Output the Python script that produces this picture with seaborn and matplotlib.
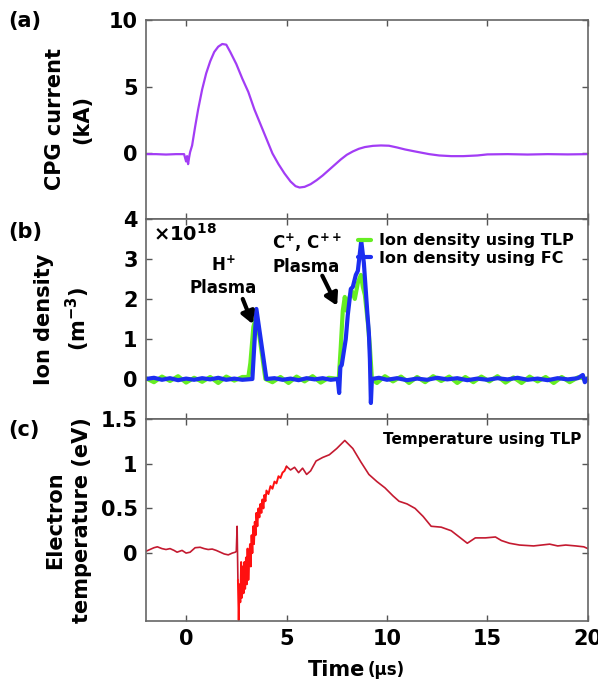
import numpy as np
import pandas as pd
from matplotlib import pyplot as plt
import seaborn as sns

# (a) CPG current, kA
t_cur = [-2.0, -1.5, -1.0, -0.5, -0.1, 0.0, 0.05, 0.1, 0.15, 0.2, 0.3, 0.45, 0.6, 0.8, 1.0,
         1.2, 1.4, 1.6, 1.8, 2.0, 2.2, 2.5, 2.8, 3.1, 3.4, 3.7, 4.0, 4.3, 4.6, 4.9, 5.2,
         5.45, 5.65, 5.9, 6.2, 6.5, 6.8, 7.1, 7.4, 7.7, 8.0, 8.3, 8.6, 8.9, 9.3, 9.7, 10.1,
         10.5, 10.9, 11.4, 12.1, 12.6, 13.2, 13.8, 14.5, 15.0, 16.0, 17.0, 18.0, 19.0, 20.0]
cur = [-0.05, -0.05, -0.08, -0.05, -0.05, -0.6, -0.2, -0.8, -0.3, 0.1, 0.6, 2.0, 3.3, 4.8,
       6.0, 6.9, 7.6, 8.0, 8.2, 8.15, 7.6, 6.7, 5.6, 4.6, 3.3, 2.2, 1.1, 0.0, -0.8, -1.5,
       -2.1, -2.45, -2.55, -2.5, -2.3, -2.0, -1.65, -1.25, -0.85, -0.45, -0.1, 0.15, 0.35,
       0.48, 0.57, 0.6, 0.58, 0.45, 0.3, 0.15, -0.05, -0.15, -0.2, -0.2, -0.15, -0.07,
       -0.05, -0.08, -0.05, -0.07, -0.05]

# (b) ion density, 1e18 m^-3
t_fc = [-2.0, -1.6, -1.2, -0.8, -0.4, 0.0, 0.4, 0.8, 1.2, 1.6, 2.0, 2.4, 2.8, 3.3, 3.5,
        4.0, 4.4, 4.8, 5.2, 5.6, 6.0, 6.4, 6.8, 7.2, 7.55, 7.62, 7.68, 7.75, 7.95, 8.05,
        8.2, 8.3, 8.45, 8.55, 8.72, 8.85, 9.03, 9.1, 9.15, 9.2, 9.25, 9.6, 10.0, 10.5,
        11.0, 11.5, 12.0, 12.5, 13.0, 13.5, 14.0, 14.5, 15.0, 15.5, 16.0, 16.5, 17.0,
        17.5, 18.0, 18.5, 19.0, 19.5, 19.75, 19.85, 20.0]
n_fc = [0.0, 0.03, -0.02, 0.02, -0.03, 0.01, -0.02, 0.02, -0.01, 0.03, -0.02, 0.01, -0.02,
        0.0, 1.75, 0.0, 0.02, -0.02, 0.01, -0.03, 0.02, -0.01, 0.02, -0.02, 0.0, -0.35,
        0.3, 0.35, 1.0, 1.6, 2.25, 2.3, 2.6, 2.7, 3.45, 2.9, 1.6, 1.15, 0.5, -0.6, 0.0,
        0.03, -0.02, 0.02, -0.03, 0.01, -0.02, 0.03, -0.01, 0.02, -0.03, 0.01, -0.02,
        0.02, -0.01, 0.03, -0.02, 0.01, -0.03, 0.02, -0.01, 0.02, 0.1, -0.08, 0.02]
t_tlp = [-2.0, -1.6, -1.2, -0.8, -0.4, 0.0, 0.4, 0.8, 1.2, 1.6, 2.0, 2.4, 2.8, 3.1, 3.2,
         3.35, 3.5, 3.95, 4.3, 4.7, 5.1, 5.5, 5.9, 6.3, 6.7, 7.1, 7.6, 7.7, 7.8, 7.9, 8.0,
         8.1, 8.25, 8.4, 8.55, 8.7, 8.8, 8.9, 9.05, 9.15, 9.25, 9.5, 9.9, 10.3, 10.7, 11.1,
         11.5, 11.9, 12.3, 12.7, 13.1, 13.5, 13.9, 14.3, 14.7, 15.1, 15.5, 15.9, 16.3, 16.7,
         17.1, 17.5, 17.9, 18.3, 18.7, 19.1, 19.5, 20.0]
n_tlp = [0.02, -0.08, 0.06, -0.05, 0.07, -0.09, 0.03, -0.07, 0.05, -0.1, 0.06, -0.04, 0.05,
         0.05, 0.4, 1.3, 1.6, 0.0, -0.08, 0.05, -0.1, 0.06, -0.06, 0.07, -0.09, 0.03, 0.0,
         0.8, 1.7, 2.05, 1.7, 2.0, 2.2, 2.0, 2.4, 2.6, 2.3, 2.1, 1.4, 0.8, 0.0, -0.1, 0.07,
         -0.06, 0.06, -0.1, 0.05, -0.08, 0.07, -0.05, 0.06, -0.1, 0.05, -0.08, 0.06, -0.06,
         0.07, -0.09, 0.04, -0.1, 0.06, -0.06, 0.05, -0.1, 0.05, -0.08, 0.04, 0.0]

# (c) electron temperature, eV
t_te1 = [-2.0, -1.8, -1.6, -1.43, -1.2, -1.0, -0.8, -0.6, -0.45, -0.2, 0.0, 0.2, 0.45, 0.7,
         0.9, 1.1, 1.3, 1.5, 1.7, 1.9, 2.1, 2.3, 2.45, 2.5, 2.54, 2.58]
te1 = [0.02, 0.04, 0.06, 0.07, 0.05, 0.04, 0.05, 0.03, 0.01, 0.03, 0.0, 0.01, 0.06, 0.065,
       0.05, 0.04, 0.045, 0.03, 0.01, -0.01, -0.02, 0.0, 0.01, 0.02, 0.3, -0.3]
t_te2 = [2.58, 2.62, 2.66, 2.7, 2.74, 2.78, 2.82, 2.86, 2.9, 2.94, 2.98, 3.02, 3.06, 3.1,
         3.14, 3.18, 3.22, 3.26, 3.3, 3.34, 3.38, 3.42, 3.46, 3.5, 3.55, 3.6, 3.65, 3.7,
         3.75, 3.8, 3.85, 3.9, 3.95, 4.0, 4.1, 4.2, 4.3, 4.4, 4.5, 4.6, 4.7, 4.8, 4.9, 5.0]
te2 = [-0.3, -0.75, -0.35, -0.55, -0.1, -0.5, -0.15, -0.45, -0.1, -0.4, -0.05, -0.35, 0.05,
       -0.3, -0.1, 0.1, -0.15, 0.2, 0.0, 0.3, 0.1, 0.35, 0.2, 0.45, 0.3, 0.5, 0.4, 0.55,
       0.45, 0.6, 0.5, 0.65, 0.58, 0.7, 0.66, 0.75, 0.72, 0.8, 0.78, 0.86, 0.84, 0.9, 0.92,
       0.97]
t_te3 = [5.0, 5.2, 5.4, 5.6, 5.8, 6.0, 6.2, 6.47, 6.8, 7.13, 7.5, 7.9, 8.3, 8.7, 9.1, 9.5,
         9.9, 10.3, 10.6, 11.0, 11.4, 11.8, 12.2, 12.7, 13.2, 13.6, 14.0, 14.4, 14.9, 15.4,
         15.7, 16.1, 16.6, 17.3, 18.1, 18.5, 18.9, 19.4, 19.8, 20.0]
te3 = [0.97, 0.93, 0.96, 0.9, 0.95, 0.88, 0.92, 1.03, 1.07, 1.1, 1.17, 1.26, 1.17, 1.02,
       0.88, 0.8, 0.73, 0.64, 0.58, 0.55, 0.5, 0.41, 0.3, 0.29, 0.25, 0.18, 0.11, 0.17,
       0.17, 0.18, 0.14, 0.11, 0.09, 0.08, 0.1, 0.08, 0.09, 0.08, 0.07, 0.05]

sns.set_style("ticks")
plt.rcParams['font.family'] = ['DejaVu Sans']
plt.rcParams['font.weight'] = 'bold'
plt.rcParams['text.color'] = 'black'
plt.rcParams['axes.labelcolor'] = 'black'

fig = plt.figure(figsize=(5.98, 6.84), dpi=100)
L, W = 0.244, 0.739
axA = fig.add_axes([L, 0.680, W, 0.2908])
axB = fig.add_axes([L, 0.3874, W, 0.2926])
axC = fig.add_axes([L, 0.0921, W, 0.2953])


def line(ax, t, y, color, lw, label=None):
    df = pd.DataFrame({"t": t, "y": y})
    sns.lineplot(data=df, x="t", y="y", ax=ax, color=color, linewidth=lw,
                 estimator=None, sort=False, label=label, legend=label is not None)


line(axA, t_cur, cur, "#a23cf5", 1.6)
line(axB, t_tlp, n_tlp, "#66ee22", 3.0, "Ion density using TLP")
line(axB, t_fc, n_fc, "#1c2ef0", 3.0, "Ion density using FC")
line(axC, t_te1, te1, "#c41a30", 1.2)
line(axC, t_te2, te2, "#ff1010", 1.4)
line(axC, t_te3, te3, "#c41a30", 1.2)

axA.set_ylim(-4.9, 10)
axA.set_yticks([0, 5, 10])
axB.set_ylim(-1, 4)
axB.set_yticks([0, 1, 2, 3, 4])
axC.set_ylim(-0.76, 1.5)
axC.set_yticks([0, 0.5, 1, 1.5])
axC.set_yticklabels(["0", "0.5", "1", "1.5"])

for ax in (axA, axB, axC):
    ax.set_xlim(-2, 20)
    ax.set_xticks([0, 5, 10, 15, 20])
    ax.tick_params(direction="in", top=True, right=True, length=4, width=1,
                   color="#555555", labelcolor="black", labelsize=15, pad=6)
    for s in ax.spines.values():
        s.set_color("#666666")
        s.set_linewidth(1.2)
    ax.set_xlabel("")
    for lab in ax.get_yticklabels() + ax.get_xticklabels():
        lab.set_fontweight("bold")
axA.tick_params(labelbottom=False)
axB.tick_params(labelbottom=False)

axA.set_ylabel("CPG current\n(kA)", fontsize=15, fontweight="bold", linespacing=1.45)
axB.set_ylabel("Ion density\n(m$^{\\mathbf{-3}}$)", fontsize=15, fontweight="bold",
               linespacing=1.45)
axC.set_ylabel("Electron\ntemperature (eV)", fontsize=15, fontweight="bold", linespacing=1.45)
for ax in (axA, axB, axC):
    ax.yaxis.set_label_coords(-0.122, 0.5)

fig.text(0.610, 0.021, "Time", fontsize=15, fontweight="bold", ha="right", va="center")
fig.text(0.615, 0.021, "(\u03bcs)", fontsize=12, fontweight="bold", ha="left", va="center")

fig.text(0.013, 0.970, "(a)", fontsize=15, fontweight="bold", va="center")
fig.text(0.013, 0.661, "(b)", fontsize=15, fontweight="bold", va="center")
fig.text(0.013, 0.371, "(c)", fontsize=15, fontweight="bold", va="center")

axB.text(0.015, 0.925, "\u00d710$^{\\mathbf{18}}$", transform=axB.transAxes, fontsize=14,
         fontweight="bold", va="center", ha="left")
axB.text(1.83, 2.56, "H$^{\\mathbf{+}}$\nPlasma", fontsize=12, fontweight="bold",
         ha="center", va="center", linespacing=1.3)
axB.text(6.0, 3.12, "C$^{\\mathbf{+}}$, C$^{\\mathbf{++}}$\nPlasma", fontsize=12,
         fontweight="bold", ha="center", va="center", linespacing=1.3)
arrow = dict(arrowstyle="-|>,head_width=0.4,head_length=0.7", color="black", lw=3,
             shrinkA=0, shrinkB=0)
axB.annotate("", xy=(3.32, 1.37), xytext=(2.82, 2.0), arrowprops=arrow)
axB.annotate("", xy=(7.52, 1.83), xytext=(6.78, 2.58), arrowprops=arrow)

leg = axB.legend(loc="upper right", frameon=False, fontsize=11.5, handlelength=0.8,
                 handletextpad=0.5, borderaxespad=0.5, labelspacing=0.15)
for txt in leg.get_texts():
    txt.set_fontweight("bold")

axC.text(0.985, 0.9, "Temperature using TLP", transform=axC.transAxes, fontsize=11,
         fontweight="bold", ha="right", va="center")

fig.savefig("out.png", dpi=100)
